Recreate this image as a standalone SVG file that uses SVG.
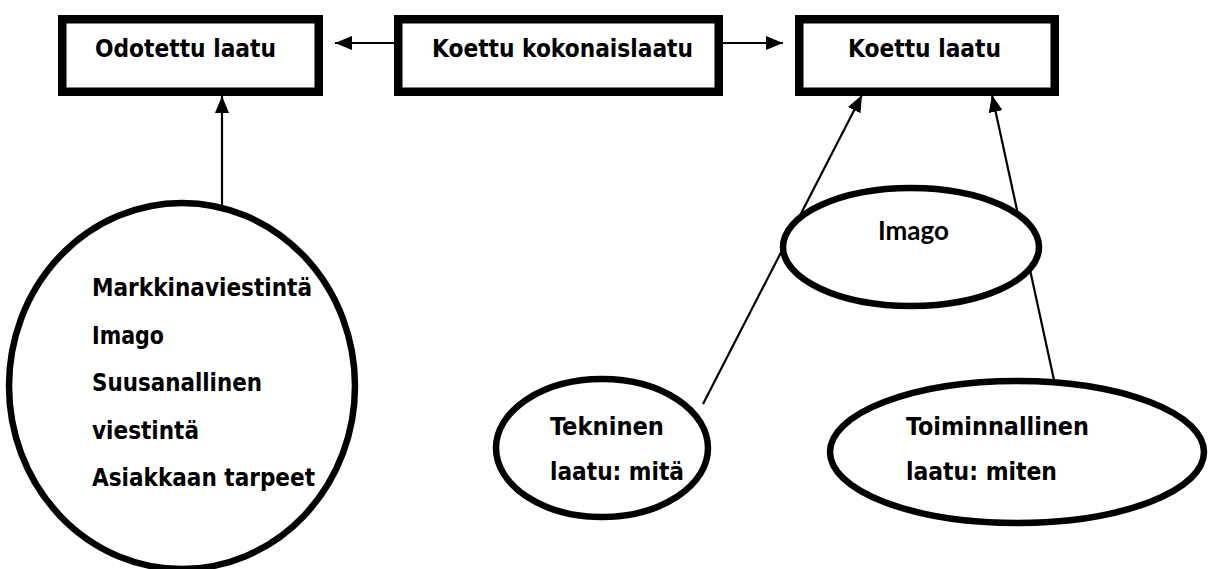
<svg xmlns="http://www.w3.org/2000/svg" width="1211" height="569" viewBox="0 0 1211 569">
  <style>
    .box { fill: #fff; stroke: #000; stroke-width: 8.5; }
    .oval { fill: #fff; stroke: #000; stroke-width: 6.5; }
    .lbl { font-family: "DejaVu Sans", "Liberation Sans", sans-serif; font-weight: bold; font-stretch: condensed; font-size: 24px; fill: #000; }
    .lato { font-family: Lato, "DejaVu Sans", sans-serif; font-weight: bold; font-size: 26px; fill: #000; }
    .conn { stroke: #000; stroke-width: 2.2; fill: none; marker-end: url(#arrow); }
  </style>
  <defs>
    <marker id="arrow" markerUnits="userSpaceOnUse" markerWidth="17" markerHeight="14" refX="17" refY="7" orient="auto">
      <path d="M0,0 L17,7 L0,14 z" fill="#000"/>
    </marker>
  </defs>
  <rect width="1211" height="569" fill="#fff"/>

  <!-- connectors -->
  <g id="connectors">
    <line class="conn" x1="222" y1="206" x2="222" y2="96"/>
    <line class="conn" x1="394" y1="43" x2="335" y2="43"/>
    <line class="conn" x1="723" y1="43" x2="783" y2="43"/>
    <line class="conn" x1="703" y1="404" x2="862" y2="95"/>
    <line class="conn" x1="1054" y1="380" x2="992" y2="95"/>
  </g>

  <g id="odotettu">
    <rect class="box" x="62.25" y="19.25" width="256.5" height="72.5"/>
    <text class="lbl" x="95" y="57" textLength="181" lengthAdjust="spacingAndGlyphs">Odotettu laatu</text>
  </g>

  <g id="kokonaislaatu">
    <rect class="box" x="398.25" y="19.25" width="320.5" height="72.5"/>
    <text class="lbl" x="432" y="57" textLength="261" lengthAdjust="spacingAndGlyphs">Koettu kokonaislaatu</text>
  </g>

  <g id="koettu">
    <rect class="box" x="799.25" y="19.25" width="255.5" height="72.5"/>
    <text class="lbl" x="848" y="57" textLength="153" lengthAdjust="spacingAndGlyphs">Koettu laatu</text>
  </g>

  <g id="odotukset">
    <ellipse class="oval" cx="182" cy="386" rx="173" ry="183"/>
    <text class="lbl" x="92" y="296" textLength="220" lengthAdjust="spacingAndGlyphs">Markkinaviestintä</text>
    <text class="lbl" x="92" y="343.5" textLength="72" lengthAdjust="spacingAndGlyphs">Imago</text>
    <text class="lbl" x="92" y="391" textLength="170" lengthAdjust="spacingAndGlyphs">Suusanallinen</text>
    <text class="lbl" x="92" y="438.5" textLength="107" lengthAdjust="spacingAndGlyphs">viestintä</text>
    <text class="lbl" x="92" y="486" textLength="223" lengthAdjust="spacingAndGlyphs">Asiakkaan tarpeet</text>
  </g>

  <g id="imago">
    <ellipse class="oval" cx="911" cy="247" rx="128" ry="59"/>
    <text class="lato" x="878" y="240">Imago</text>
  </g>

  <g id="tekninen">
    <ellipse class="oval" cx="602" cy="448" rx="106" ry="69"/>
    <text class="lbl" x="550" y="435" textLength="114" lengthAdjust="spacingAndGlyphs">Tekninen</text>
    <text class="lbl" x="550" y="480" textLength="134" lengthAdjust="spacingAndGlyphs">laatu: mitä</text>
  </g>

  <g id="toiminnallinen">
    <ellipse class="oval" cx="1017" cy="452" rx="187" ry="71"/>
    <text class="lbl" x="906" y="435" textLength="183" lengthAdjust="spacingAndGlyphs">Toiminnallinen</text>
    <text class="lbl" x="906" y="480" textLength="151" lengthAdjust="spacingAndGlyphs">laatu: miten</text>
  </g>
</svg>
